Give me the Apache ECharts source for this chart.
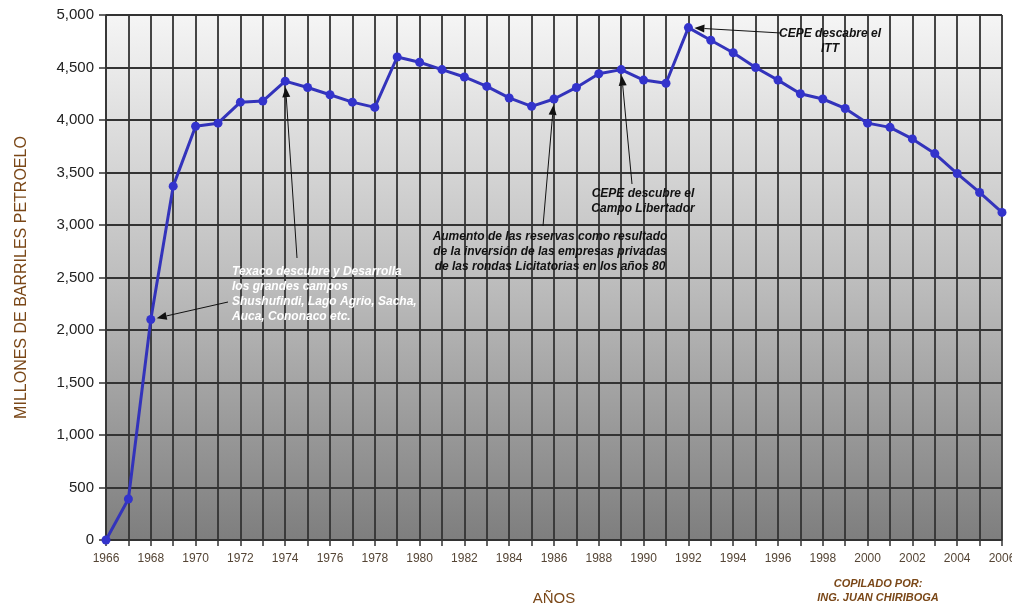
<!DOCTYPE html>
<html>
<head>
<meta charset="utf-8">
<script src="https://cdn.jsdelivr.net/npm/echarts@6/dist/echarts.min.js"></script>
<style>
  html, body { margin: 0; padding: 0; background: #ffffff; }
  #chart { width: 1012px; height: 604px; }
</style>
</head>
<body>
<div id="chart"></div>
<script>
// Reservas probadas de petróleo, millones de barriles, 1966–2006
const years = [];
for (let y = 1966; y <= 2006; y++) years.push(String(y));

const reservas = [
  0, 390, 2100, 3370, 3940, 3970, 4170, 4180, 4370, 4310,
  4240, 4170, 4120, 4600, 4550, 4480, 4410, 4320, 4210, 4130,
  4200, 4310, 4440, 4480, 4380, 4350, 4880, 4760, 4640, 4500,
  4380, 4250, 4200, 4110, 3970, 3930, 3820, 3680, 3490, 3310,
  3120
];

const yTicks = { min: 0, max: 5000, interval: 500 };

// Notas sobre la curva: año señalado y origen de la flecha
const notas = [
  { year: '1974', from: [297, 258] },
  { year: '1968', from: [228, 302] },
  { year: '1986', from: [543, 226] },
  { year: '1989', from: [632, 184] },
  { year: '1992', from: [781, 33] }
];

const brown = '#7a4717';

const chart = echarts.init(document.getElementById('chart'), null, { renderer: 'canvas' });

chart.setOption({
  animation: false,
  backgroundColor: '#ffffff',
  grid: {
    left: 106, right: 10, top: 15, bottom: 64,
    outerBoundsMode: 'none',
    containLabel: false,
    show: true,
    borderWidth: 0,
    backgroundColor: new echarts.graphic.LinearGradient(0, 0, 0, 1, [
      { offset: 0, color: '#f5f5f5' },
      { offset: 0.5, color: '#bebebe' },
      { offset: 1, color: '#7e7e7e' }
    ])
  },
  xAxis: {
    type: 'category',
    data: years,
    boundaryGap: false,
    axisLine: { show: true, lineStyle: { color: '#333', width: 1.5 } },
    axisTick: { show: true, interval: 0, length: 6, lineStyle: { color: '#333', width: 1.5 } },
    axisLabel: {
      interval: 1, color: '#554535', fontFamily: 'Arial, Liberation Sans', fontSize: 12, margin: 13
    },
    splitLine: { show: true, interval: 0, lineStyle: { color: '#333333', width: 1.8 } },
    name: 'AÑOS',
    nameLocation: 'middle',
    nameGap: 51,
    nameTextStyle: { color: brown, fontFamily: 'Arial, Liberation Sans', fontSize: 15 }
  },
  yAxis: {
    type: 'value',
    min: yTicks.min, max: yTicks.max, interval: yTicks.interval,
    axisLine: { show: true, lineStyle: { color: '#333', width: 1.5 } },
    axisTick: { show: true, length: 7, lineStyle: { color: '#333', width: 1.5 } },
    axisLabel: {
      color: '#222222', fontFamily: 'Arial, Liberation Sans', fontSize: 15, margin: 12,
      formatter: v => v.toLocaleString('en-US')
    },
    splitLine: { show: true, lineStyle: { color: '#333333', width: 1.8 } },
    name: 'MILLONES DE BARRILES PETROELO',
    nameLocation: 'middle',
    nameGap: 76,
    nameRotate: 90,
    nameTextStyle: { color: brown, fontFamily: 'Arial, Liberation Sans', fontSize: 16 }
  },
  series: [{
    type: 'line',
    data: reservas,
    symbol: 'circle',
    symbolSize: 9,
    lineStyle: { color: '#3333bb', width: 3 },
    itemStyle: { color: '#3333cc' },
    z: 5
  }]
});

// Flechas y textos de las notas
function arrow(from, to, gap) {
  const dx = to[0] - from[0], dy = to[1] - from[1];
  const len = Math.hypot(dx, dy);
  const ux = dx / len, uy = dy / len;
  const tip = [to[0] - ux * gap, to[1] - uy * gap];
  const base = [tip[0] - ux * 10, tip[1] - uy * 10];
  const px = -uy, py = ux;
  return [
    { type: 'line', shape: { x1: from[0], y1: from[1], x2: base[0], y2: base[1] },
      style: { stroke: '#111', lineWidth: 1 }, z: 20 },
    { type: 'polygon', shape: { points: [tip, [base[0] + px * 4, base[1] + py * 4], [base[0] - px * 4, base[1] - py * 4]] },
      style: { fill: '#111' }, z: 20 }
  ];
}

const elems = [];
notas.forEach(n => {
  const idx = years.indexOf(n.year);
  const p = chart.convertToPixel({ gridIndex: 0 }, [n.year, reservas[idx]]);
  elems.push(...arrow(n.from, p, 6));
});

const noteFont = 'italic bold 12px Arial, "Liberation Sans", sans-serif';
elems.push(
  { type: 'text', left: 232, top: 264, z: 21,
    style: { text: 'Texaco descubre y Desarrolla\nlos grandes campos\nShushufindi, Lago Agrio, Sacha,\nAuca, Cononaco etc.',
      font: noteFont, fill: '#ffffff', lineHeight: 15 } },
  { type: 'text', x: 550, y: 229, z: 21,
    style: { text: 'Aumento de las reservas como resultado\nde la inversión de las empresas privadas\nde las rondas Licitatorias en los años 80',
      font: noteFont, fill: '#111', lineHeight: 15, textAlign: 'center' } },
  { type: 'text', x: 643, y: 186, z: 21,
    style: { text: 'CEPE descubre el\nCampo Libertador',
      font: noteFont, fill: '#111', lineHeight: 15, textAlign: 'center' } },
  { type: 'text', x: 830, y: 26, z: 21,
    style: { text: 'CEPE descabre el\nITT',
      font: noteFont, fill: '#111', lineHeight: 15, textAlign: 'center' } },
  { type: 'text', x: 878, y: 577, z: 21,
    style: { text: 'COPILADO POR:\nING. JUAN CHIRIBOGA',
      font: 'italic bold 11px Arial, "Liberation Sans", sans-serif', fill: brown, lineHeight: 14, textAlign: 'center' } }
);

chart.setOption({ graphic: elems });
</script>
</body>
</html>
